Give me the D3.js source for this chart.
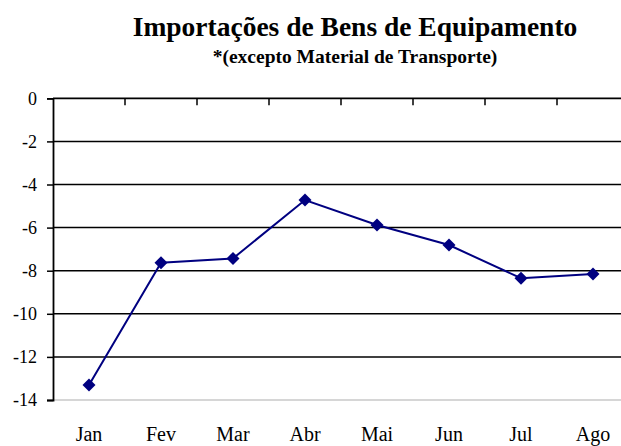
<!DOCTYPE html>
<html>
<head>
<meta charset="utf-8">
<script src="https://cdn.jsdelivr.net/npm/d3@7"></script>
<style>
  html, body { margin: 0; padding: 0; background: #fff; }
  svg text { font-family: "Liberation Serif", "Times New Roman", serif; fill: #000; }
</style>
</head>
<body>
<div id="chart"></div>
<script>
// data
const months = ["Jan", "Fev", "Mar", "Abr", "Mai", "Jun", "Jul", "Ago"];
const values = [-13.3, -7.63, -7.43, -4.72, -5.88, -6.81, -8.35, -8.15];
const yTicks = [0, -2, -4, -6, -8, -10, -12, -14];

const width = 621, height = 446;
const serif = "Liberation Serif, Times New Roman, serif";

const svg = d3.select("#chart")
  .append("svg")
  .attr("width", width)
  .attr("height", height);

const x = d3.scaleBand()
  .domain(months)
  .range([53, 629]);

const y = d3.scaleLinear()
  .domain([-14, 0])
  .range([400, 98.3]);

// title
svg.append("text")
  .attr("x", 355)
  .attr("y", 36)
  .attr("text-anchor", "middle")
  .attr("font-family", serif)
  .style("font-size", "27.5px")
  .style("font-weight", "bold")
  .text("Importações de Bens de Equipamento");

svg.append("text")
  .attr("x", 355)
  .attr("y", 63)
  .attr("text-anchor", "middle")
  .attr("font-family", serif)
  .style("font-size", "19.5px")
  .style("font-weight", "bold")
  .text("*(excepto Material de Transporte)");

// bottom border of plot area (light grey)
svg.append("line")
  .attr("x1", 53).attr("x2", width)
  .attr("y1", y(-14)).attr("y2", y(-14))
  .attr("stroke", "#c8c8c8")
  .attr("stroke-width", 1.5);

// gridlines
svg.append("g")
  .selectAll("line")
  .data(yTicks.filter(d => d !== 0 && d !== -14))
  .join("line")
  .attr("x1", 53).attr("x2", width)
  .attr("y1", d => y(d)).attr("y2", d => y(d))
  .attr("stroke", "#000")
  .attr("stroke-width", 1.5);

// y axis
const yAxis = svg.append("g")
  .attr("transform", "translate(53,0)")
  .call(d3.axisLeft(y).tickValues(yTicks).tickSize(6).tickPadding(10).tickFormat(d => String(d)));
yAxis.attr("font-family", serif).attr("font-size", 18);
yAxis.select(".domain").attr("stroke", "#000").attr("stroke-width", 1.8);
yAxis.selectAll(".tick line").attr("stroke", "#000").attr("stroke-width", 1.5);

// category axis crossing at 0 (top), ticks between categories pointing down
svg.append("line")
  .attr("x1", 53).attr("x2", width)
  .attr("y1", y(0)).attr("y2", y(0))
  .attr("stroke", "#000")
  .attr("stroke-width", 1.8);

svg.append("g")
  .selectAll("line")
  .data(months.slice(1))
  .join("line")
  .attr("x1", d => x(d)).attr("x2", d => x(d))
  .attr("y1", y(0)).attr("y2", y(0) + 7)
  .attr("stroke", "#000")
  .attr("stroke-width", 1.5);

// category labels at the bottom
svg.append("g")
  .attr("font-family", serif)
  .selectAll("text")
  .data(months)
  .join("text")
  .attr("x", d => x(d) + x.bandwidth() / 2)
  .attr("y", 441)
  .attr("text-anchor", "middle")
  .style("font-size", "20px")
  .text(d => d);

// series
const line = d3.line()
  .x((d, i) => x(months[i]) + x.bandwidth() / 2)
  .y(d => y(d));

svg.append("path")
  .datum(values)
  .attr("d", line)
  .attr("fill", "none")
  .attr("stroke", "#000080")
  .attr("stroke-width", 2);

svg.append("g")
  .selectAll("path")
  .data(values)
  .join("path")
  .attr("transform", (d, i) => `translate(${x(months[i]) + x.bandwidth() / 2},${y(d)})`)
  .attr("d", "M0,-6.5L6.5,0L0,6.5L-6.5,0Z")
  .attr("fill", "#000080");
</script>
</body>
</html>
